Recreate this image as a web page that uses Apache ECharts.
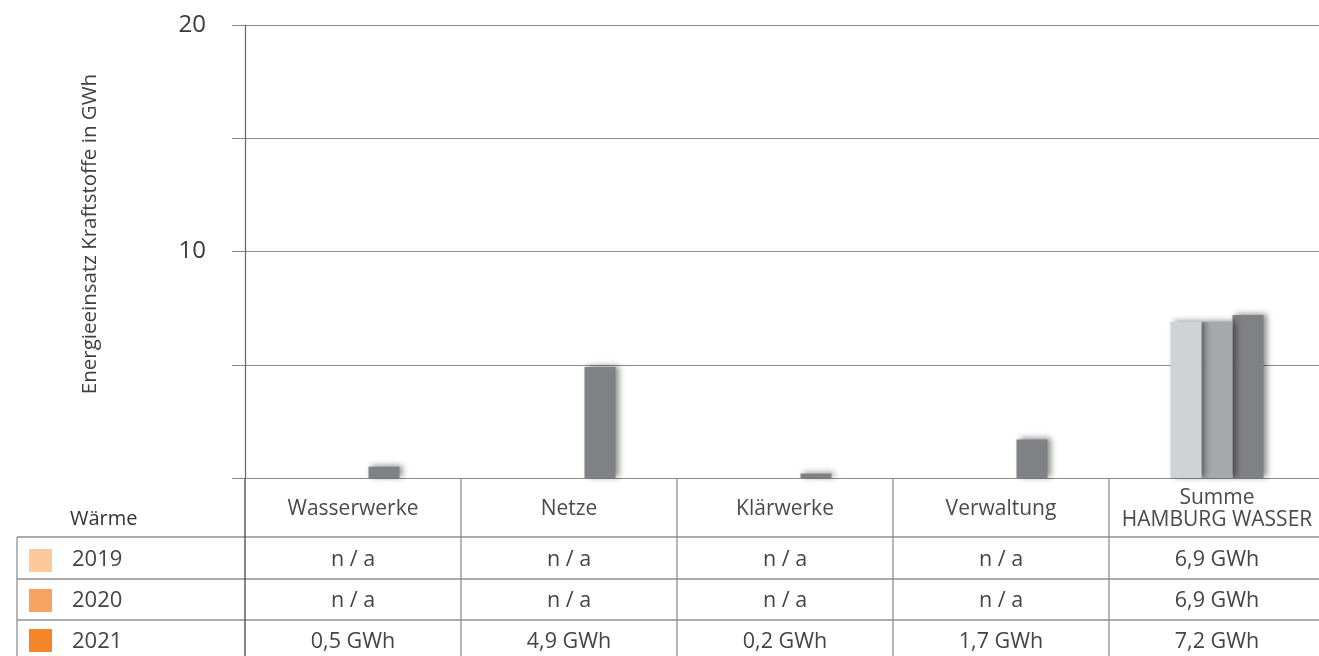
<!DOCTYPE html>
<html>
<head>
<meta charset="utf-8">
<script src="https://cdn.jsdelivr.net/npm/echarts@6/dist/echarts.min.js"></script>
<style>
html,body{margin:0;padding:0;background:#fff;}
#c{width:1319px;height:656px;}
</style>
</head>
<body>
<div id="c"></div>
<script>
const categories = ['Wasserwerke', 'Netze', 'Klärwerke', 'Verwaltung', 'Summe\nHAMBURG WASSER'];
const years = ['2019', '2020', '2021'];
const values2019 = [null, null, null, null, 6.9];
const values2020 = [null, null, null, null, 6.9];
const values2021 = [0.5, 4.9, 0.2, 1.7, 7.2];
const yTickLabels = [10, 20];
const tableTitle = 'Wärme';
const axisTitle = 'Energieeinsatz Kraftstoffe in GWh';

const barColors = ['#d1d2d4', '#a7a8ab', '#808184'];
const legendColors = ['#fbc99c', '#f7a462', '#f5852a'];
const seriesValues = [values2019, values2020, values2021];
const FONT = '"Open Sans", "Noto Sans", sans-serif';

const chart = echarts.init(document.getElementById('c'));
const GRID = {left: 245, top: 25, right: -6, bottom: 178, containLabel: false, outerBoundsMode: 'none'};

chart.setOption({
  animation: false,
  grid: GRID,
  xAxis: {
    type: 'category',
    data: categories,
    axisLine: {show: false},
    axisTick: {show: false},
    axisLabel: {
      margin: 31, verticalAlign: 'middle', lineHeight: 22,
      color: '#4a4a4a', fontSize: 21, fontFamily: FONT, interval: 0
    }
  },
  yAxis: {
    type: 'value', min: 0, max: 20, interval: 5,
    axisLine: {show: true, lineStyle: {color: '#666', width: 1.2}},
    axisTick: {show: true, length: 13, lineStyle: {color: '#888'}},
    splitLine: {lineStyle: {color: '#8a8a8a', width: 1.2}},
    axisLabel: {
      margin: 39, color: '#3a3a3a', fontSize: 24, fontFamily: FONT,
      formatter: v => yTickLabels.indexOf(v) >= 0 ? String(v) : ''
    }
  },
  series: years.map((y, i) => ({
    name: y, type: 'bar', data: seriesValues[i],
    barWidth: 31, barGap: '0%',
    itemStyle: {
      color: barColors[i],
      shadowColor: 'rgba(0,0,0,0.45)', shadowBlur: 6, shadowOffsetX: 3, shadowOffsetY: -1
    },
    z: 3 - i
  }))
});

// Build data table below the axis from the same arrays
function fmt(v) { return v == null ? 'n / a' : String(v).replace('.', ',') + ' GWh'; }
const y0 = chart.convertToPixel({yAxisIndex: 0}, 0);
const colCenters = categories.map((c, i) => chart.convertToPixel({xAxisIndex: 0}, i));
const colW = colCenters.length > 1 ? colCenters[1] - colCenters[0] : 216;
const left = GRID.left;
const right = 1319;
const rowLines = [537, 579, 620];
const rowCenters = [560, 601, 642];
const swatchTops = [549, 589, 629];
const g = [];
const lineStyle = {stroke: '#8f8f8f', lineWidth: 1.3};
rowLines.forEach(y => g.push({type: 'line', shape: {x1: 17, y1: y, x2: right, y2: y}, style: lineStyle, silent: true}));
g.push({type: 'line', shape: {x1: 17, y1: 537, x2: 17, y2: 656}, style: lineStyle});
g.push({type: 'line', shape: {x1: left, y1: y0, x2: left, y2: 656}, style: {stroke: '#444', lineWidth: 1.3}});
for (let k = 1; k < categories.length; k++) {
  const x = colCenters[k] - colW / 2;
  g.push({type: 'line', shape: {x1: x, y1: y0, x2: x, y2: 656}, style: lineStyle});
}
g.push({type: 'text', rotation: Math.PI / 2, x: 90, y: 234,
  style: {text: axisTitle, x: 0, y: 0, textAlign: 'center', textVerticalAlign: 'middle', font: '20.5px ' + FONT, fill: '#3f3f3f'}});
g.push({type: 'text', style: {text: tableTitle, x: 70, y: 519, textVerticalAlign: 'middle', font: '20px ' + FONT, fill: '#333'}});
years.forEach((yr, r) => {
  g.push({type: 'rect', shape: {x: 29, y: swatchTops[r], width: 23, height: 23}, style: {fill: legendColors[r]}});
  g.push({type: 'text', style: {text: yr, x: 72, y: rowCenters[r], textVerticalAlign: 'middle', font: '22px ' + FONT, fill: '#444'}});
  seriesValues[r].forEach((v, ci) => {
    g.push({type: 'text', style: {text: fmt(v), x: colCenters[ci], y: rowCenters[r], textAlign: 'center', textVerticalAlign: 'middle', font: '21.5px ' + FONT, fill: '#444'}});
  });
});
chart.setOption({graphic: g});
</script>
</body>
</html>
